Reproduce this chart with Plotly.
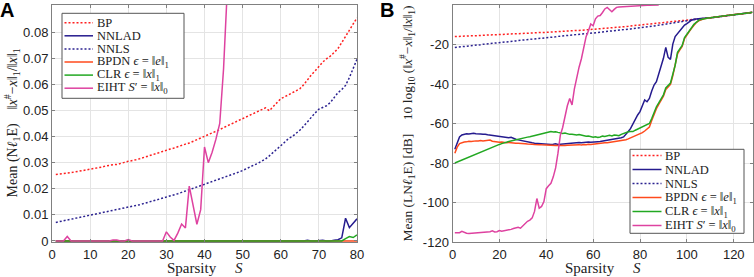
import plotly.graph_objects as go

# ---------------- Panel A data (linear error, S = 1..80) ----------------
BP_A = [
    0.0255, 0.0256, 0.0258, 0.0260, 0.0262, 0.0264, 0.0266, 0.0269, 0.0272, 0.0275,
    0.0277, 0.0280, 0.0283, 0.0287, 0.0290, 0.0292, 0.0293, 0.0296, 0.0301, 0.0305,
    0.0307, 0.0311, 0.0315, 0.0319, 0.0323, 0.0328, 0.0333, 0.0338, 0.0343, 0.0349,
    0.0352, 0.0356, 0.0362, 0.0366, 0.0371, 0.0375, 0.0382, 0.0389, 0.0394, 0.0401,
    0.0407, 0.0414, 0.0420, 0.0428, 0.0435, 0.0441, 0.0448, 0.0455, 0.0462, 0.0468,
    0.0474, 0.0480, 0.0487, 0.0494, 0.0502, 0.0510, 0.0499, 0.0515, 0.0530, 0.0545,
    0.0552, 0.0560, 0.0566, 0.0574, 0.0583, 0.0598, 0.0619, 0.0636, 0.0651, 0.0670,
    0.0685, 0.0698, 0.0708, 0.0722, 0.0737, 0.0760, 0.0785, 0.0805, 0.0830, 0.0855,
]
NNLS_A = [
    0.0071, 0.0074, 0.0077, 0.0080, 0.0083, 0.0086, 0.0089, 0.0093, 0.0097, 0.0100,
    0.0103, 0.0106, 0.0109, 0.0112, 0.0114, 0.0117, 0.0120, 0.0123, 0.0125, 0.0128,
    0.0132, 0.0136, 0.0139, 0.0143, 0.0147, 0.0151, 0.0155, 0.0159, 0.0163, 0.0167,
    0.0171, 0.0176, 0.0181, 0.0186, 0.0191, 0.0196, 0.0202, 0.0207, 0.0212, 0.0218,
    0.0223, 0.0228, 0.0233, 0.0238, 0.0243, 0.0248, 0.0253, 0.0259, 0.0264, 0.0270,
    0.0278, 0.0285, 0.0291, 0.0297, 0.0304, 0.0314, 0.0326, 0.0338, 0.0351, 0.0365,
    0.0378, 0.0392, 0.0400, 0.0412, 0.0424, 0.0440, 0.0458, 0.0474, 0.0490, 0.0505,
    0.0512, 0.0518, 0.0530, 0.0550, 0.0568, 0.0580, 0.0596, 0.0626, 0.0660, 0.0696,
]
NNLAD_A = [
    0, 0, 0, 0, 0, 0, 0, 0, 0, 0,
    0, 0, 0, 0, 0, 0, 0, 0, 0, 0,
    0, 0, 0, 0, 0, 0, 0, 0, 0, 0,
    0, 0, 0, 0, 0, 0, 0, 0, 0, 0,
    0, 0, 0, 0, 0, 0, 0, 0, 0, 0,
    0, 0, 0, 0, 0, 0, 0, 0, 0, 0,
    0, 0, 0, 0, 0, 0, 0.0003, 0, 0, 0.0001,
    0.0003, 0, 0, 0.0003, 0.0005, 0.0012, 0.0087, 0.0051, 0.0068, 0.0085,
]
BPDN_A = [
    0, 0, 0, 0, 0, 0, 0, 0, 0, 0,
    0, 0, 0, 0, 0, 0, 0, 0, 0, 0,
    0, 0, 0, 0, 0, 0, 0, 0, 0, 0,
    0, 0, 0, 0, 0, 0, 0, 0, 0, 0,
    0, 0, 0, 0, 0, 0, 0, 0, 0, 0,
    0, 0, 0, 0, 0, 0, 0, 0, 0, 0,
    0, 0, 0, 0, 0, 0, 0, 0, 0, 0,
    0, 0, 0, 0, 0, 0, 0, 0, 0, 0,
]
CLR_A = [
    0, 0, 0, 0, 0, 0, 0, 0, 0, 0,
    0, 0, 0, 0, 0, 0, 0, 0, 0, 0,
    0, 0, 0, 0, 0, 0, 0, 0, 0, 0,
    0, 0, 0, 0, 0, 0, 0, 0, 0, 0,
    0, 0, 0, 0, 0, 0, 0, 0, 0, 0,
    0, 0, 0, 0, 0, 0, 0, 0, 0, 0,
    0, 0, 0, 0, 0, 0, 0, 0, 0, 0,
    0, 0, 0, 0, 0, 0, 0.0009, 0.0017, 0.0013, 0.0023,
]
EIHT_A = [
    0, 0, 0, 0.0017, 0, 0, 0, 0, 0, 0,
    0, 0, 0, 0, 0, 0.0004, 0.0004, 0, 0, 0.0005,
    0, 0, 0, 0, 0, 0, 0, 0, 0, 0.0035,
    0.0015, 0.0002, 0.0030, 0.0065, 0.0050, 0.0210, 0.0130, 0.0064, 0.0120, 0.0360,
    0.0300, 0.0340, 0.0390, 0.0450, 0.0660, 0.0970, 0.3000,
]

# ---------------- Panel B data (dB, S = 1..128) ----------------
BP_B = [
    -16.0, -15.9, -15.9, -15.8, -15.8, -15.7, -15.7, -15.6, -15.6, -15.5,
    -15.4, -15.4, -15.3, -15.3, -15.2, -15.2, -15.1, -15.1, -15.0, -15.0,
    -14.9, -14.8, -14.8, -14.7, -14.7, -14.6, -14.6, -14.5, -14.5, -14.4,
    -14.4, -14.3, -14.3, -14.2, -14.2, -14.1, -14.0, -13.9, -13.9, -13.8,
    -13.7, -13.7, -13.6, -13.5, -13.5, -13.4, -13.3, -13.3, -13.2, -13.1,
    -13.1, -13.0, -12.9, -12.9, -12.8, -12.7, -12.7, -12.6, -12.5, -12.5,
    -12.4, -12.4, -12.3, -12.2, -12.0, -11.9, -11.8, -11.7, -11.5, -11.4,
    -11.3, -11.2, -11.0, -10.9, -10.8, -10.6, -10.5, -10.4, -10.2, -10.1,
    -10.0, -9.9, -9.7, -9.6, -9.5, -9.4, -9.2, -9.1, -9.0, -8.9,
    -8.7, -8.6, -8.5, -8.4, -8.2, -8.1, -8.0, -7.9, -7.7, -7.6,
    -7.5, -7.4, -7.2, -7.1, -7.0, -6.9, -6.85, -6.8, -6.6, -6.5,
    -6.3, -6.2, -6.0, -5.8, -5.7, -5.5, -5.3, -5.1, -5.0, -4.9,
    -4.7, -4.6, -4.5, -4.3, -4.2, -4.0, -3.9, -3.7,
]
NNLS_B = [
    -21.5, -21.4, -21.2, -21.1, -21.0, -20.8, -20.7, -20.6, -20.5, -20.3,
    -20.2, -20.1, -19.9, -19.8, -19.7, -19.6, -19.4, -19.3, -19.2, -19.0,
    -18.9, -18.8, -18.7, -18.5, -18.4, -18.3, -18.2, -18.0, -17.9, -17.8,
    -17.7, -17.5, -17.4, -17.3, -17.2, -17.0, -16.9, -16.8, -16.7, -16.5,
    -16.4, -16.3, -16.2, -16.1, -15.9, -15.8, -15.7, -15.6, -15.4, -15.3,
    -15.2, -15.1, -15.0, -14.9, -14.7, -14.6, -14.5, -14.4, -14.3, -14.2,
    -14.0, -13.9, -13.8, -13.7, -13.5, -13.4, -13.3, -13.1, -13.0, -12.9,
    -12.7, -12.6, -12.5, -12.3, -12.2, -12.1, -11.9, -11.8, -11.7, -11.5,
    -11.4, -11.3, -11.1, -11.0, -10.8, -10.6, -10.4, -10.2, -10.0, -9.8,
    -9.6, -9.4, -9.2, -9.0, -8.8, -8.6, -8.5, -8.4, -8.2, -8.0,
    -7.8, -7.5, -7.3, -7.1, -7.05, -6.95, -6.9, -6.85, -6.65, -6.5,
    -6.35, -6.2, -6.05, -5.85, -5.7, -5.5, -5.35, -5.15, -5.0, -4.9,
    -4.75, -4.6, -4.5, -4.35, -4.2, -4.05, -3.9, -3.75,
]
NNLAD_B = [
    -73.0, -69.5, -66.8, -65.8, -65.4, -65.2, -65.3, -65.1, -65.0, -65.2,
    -65.1, -65.3, -65.5, -65.4, -65.7, -65.9, -66.0, -66.2, -66.4, -66.7,
    -66.6, -66.9, -67.0, -67.2, -67.0, -67.6, -68.0, -68.3, -68.6, -68.9,
    -69.1, -69.5, -69.7, -69.8, -70.0, -70.1, -70.3, -70.2, -70.4, -70.5,
    -70.4, -70.6, -70.5, -70.3, -70.6, -70.5, -70.4, -70.2, -70.0, -69.8,
    -69.9, -69.7, -69.8, -69.6, -69.7, -69.5, -69.6, -69.4, -69.5, -69.3,
    -69.4, -69.2, -69.1, -68.9, -68.7, -68.6, -68.3, -68.2, -67.9, -67.7,
    -67.5, -67.2, -66.8, -65.6, -64.0, -62.5, -60.0, -58.2, -55.7, -54.0,
    -51.5, -48.1, -49.0, -47.3, -43.5, -40.5, -38.8, -35.0, -31.2, -27.0,
    -21.5, -26.5, -27.5, -19.8, -16.0, -14.5, -13.2, -11.5, -10.2, -9.4,
    -8.5, -7.7, -7.2, -6.9, -6.95, -6.85, -6.8, -6.75, -6.6, -6.45,
    -6.3, -6.15, -6.0, -5.8, -5.65, -5.45, -5.3, -5.1, -4.95, -4.85,
    -4.7, -4.55, -4.45, -4.3, -4.15, -4.0, -3.85, -3.7,
]
BPDN_B = [
    -75.1, -72.0, -70.2, -69.6, -69.4, -69.3, -69.0, -69.1, -68.9, -68.8,
    -68.9, -68.6, -68.8, -68.7, -68.7, -68.4, -69.0, -69.2, -69.3, -69.5,
    -69.4, -69.6, -69.7, -69.6, -69.8, -69.9, -70.0, -70.0, -70.2, -70.1,
    -70.3, -70.4, -70.3, -70.5, -70.6, -70.5, -70.7, -70.8, -70.9, -70.8,
    -71.0, -71.1, -71.0, -71.2, -71.1, -71.2, -71.3, -71.1, -71.0, -70.9,
    -71.1, -70.8, -70.9, -70.7, -70.9, -70.6, -70.8, -70.5, -70.6, -70.4,
    -70.3, -70.2, -70.1, -69.9, -69.8, -69.7, -69.5, -69.4, -69.3, -69.1,
    -69.0, -68.8, -68.6, -68.2, -67.8, -67.3, -66.8, -66.3, -65.8, -65.2,
    -64.6, -63.8, -62.8, -61.8, -58.5, -55.0, -52.5, -50.3, -48.3, -46.2,
    -42.8, -41.3, -40.2, -35.8, -31.0, -24.8, -22.7, -21.0, -17.0, -15.5,
    -13.4, -11.8, -10.1, -8.9, -8.0, -7.4, -7.1, -6.85, -6.62, -6.5,
    -6.32, -6.2, -6.02, -5.82, -5.7, -5.5, -5.32, -5.12, -5.0, -4.9,
    -4.72, -4.6, -4.5, -4.32, -4.2, -4.02, -3.9, -3.72,
]
CLR_B = [
    -80.0, -79.5, -79.0, -78.4, -78.0, -77.6, -77.0, -76.5, -76.0, -75.4,
    -75.0, -74.3, -73.9, -73.2, -72.8, -72.3, -71.8, -71.5, -71.0, -70.6,
    -70.2, -70.0, -69.5, -69.1, -68.8, -68.4, -68.1, -67.9, -67.6, -67.3,
    -67.0, -66.9, -66.7, -66.4, -66.0, -65.7, -65.5, -65.3, -65.0, -64.6,
    -64.2, -64.1, -64.3, -64.2, -64.5, -64.7, -65.0, -64.8, -65.2, -65.5,
    -65.4, -65.7, -65.8, -65.6, -65.9, -66.2, -66.5, -66.3, -66.8, -67.0,
    -66.7, -67.1, -66.8, -66.4, -66.6, -66.2, -66.0, -66.3, -65.8, -65.9,
    -66.2, -65.5, -65.0, -64.6, -64.2, -64.0, -64.1, -63.4, -62.8, -62.4,
    -62.0, -61.2, -60.8, -60.0, -57.5, -54.0, -51.5, -49.5, -47.5, -45.5,
    -42.0, -40.5, -39.5, -35.0, -30.5, -24.0, -22.0, -20.5, -16.5, -15.0,
    -13.0, -11.5, -9.8, -8.6, -7.8, -7.3, -7.0, -6.8, -6.6, -6.5,
    -6.3, -6.2, -6.0, -5.8, -5.7, -5.5, -5.3, -5.1, -5.0, -4.9,
    -4.7, -4.6, -4.5, -4.3, -4.2, -4.0, -3.9, -3.7,
]
EIHT_B = [
    -115.3, -115.4, -115.3, -114.6, -115.3, -115.6, -115.7, -115.6, -115.6, -115.5,
    -115.5, -115.4, -115.4, -115.3, -115.2, -114.8, -114.3, -114.9, -114.8, -114.2,
    -114.6, -114.4, -114.0, -113.8, -113.6, -113.2, -112.8, -112.6, -113.0, -111.8,
    -110.5, -109.5, -108.9, -107.8, -104.5, -98.0, -102.9, -102.0, -99.5, -93.0,
    -91.5, -90.3, -87.0, -82.5, -75.0, -66.0, -62.0, -56.0, -51.0, -47.3,
    -50.6, -42.5, -36.5, -31.5, -27.2, -21.5, -16.0, -13.0, -9.6, -10.5,
    -7.0, -5.6, -5.3, -3.8, -2.0, -1.2, -2.5, -3.4, -2.2, -1.2,
    -1.0, -0.9, -0.8, -0.7, -0.6, -0.5, -0.45, -0.4, -0.35, -0.3,
    -0.25, -0.2, -0.15, -0.1, -0.08, -0.06, -0.04, -0.02,
]

NAMES = ["BP", "NNLAD", "NNLS",
         "BPDN <i>ϵ</i> = ‖<i>e</i>‖<sub>1</sub>",
         "CLR <i>ϵ</i> = ‖<i>x</i>‖<sub>1</sub>",
         "EIHT <i>S</i>′ = ‖<i>x</i>‖<sub>0</sub>"]
COLORS = ["#ff1f1f", "#251b8e", "#2b2290", "#ff4a1c", "#22a822", "#de42a0"]
DASHES = ["2px,2px", "solid", "2px,2px", "solid", "solid", "solid"]

XA_TICKS = [0, 10, 20, 30, 40, 50, 60, 70, 80]
YA_TICKS = [0, 0.01, 0.02, 0.03, 0.04, 0.05, 0.06, 0.07, 0.08]
YA_LABELS = ["0", "0.01", "0.02", "0.03", "0.04", "0.05", "0.06", "0.07", "0.08"]
XB_TICKS = [0, 20, 40, 60, 80, 100, 120]
YB_TICKS = [0, -20, -40, -60, -80, -100, -120]
YB_LABELS = ["0", "-20", "-40", "-60", "-80", "-100", "-120"]

W, H = 754, 277
def px(x):
    return x / W
def py(y):
    return 1 - y / H

fig = go.Figure()

series_A = [BP_A, NNLAD_A, NNLS_A, BPDN_A, CLR_A, EIHT_A]
series_B = [BP_B, NNLAD_B, NNLS_B, BPDN_B, CLR_B, EIHT_B]
for i, ys in enumerate(series_A):
    fig.add_trace(go.Scatter(x=list(range(1, len(ys) + 1)), y=ys, mode="lines",
                             name=NAMES[i], xaxis="x", yaxis="y", showlegend=False,
                             line=dict(color=COLORS[i], width=1.5, dash=DASHES[i])))
for i, ys in enumerate(series_B):
    fig.add_trace(go.Scatter(x=list(range(1, len(ys) + 1)), y=ys, mode="lines",
                             name=NAMES[i], xaxis="x2", yaxis="y2", showlegend=False,
                             line=dict(color=COLORS[i], width=1.5, dash=DASHES[i])))

AX = dict(showline=True, linecolor="#808080", linewidth=1, mirror="ticks",
          ticks="inside", ticklen=3, tickcolor="#808080", showgrid=True,
          gridcolor="#e4e4e4", gridwidth=1, zeroline=False, automargin=False,
          tickfont=dict(family="Liberation Sans", size=13, color="#222"))

fig.update_layout(
    width=W, height=H, margin=dict(l=0, r=0, t=0, b=0, autoexpand=False),
    paper_bgcolor="white", plot_bgcolor="white",
    xaxis=dict(AX, domain=[px(52), px(357)], range=[0, 80], tickvals=XA_TICKS, anchor="y"),
    yaxis=dict(AX, domain=[py(242), py(5)], range=[-0.0004, 0.0904], tickvals=YA_TICKS,
               ticktext=YA_LABELS, anchor="x"),
    xaxis2=dict(AX, domain=[px(452.5), px(752.5)], range=[0, 128], tickvals=XB_TICKS, anchor="y2"),
    yaxis2=dict(AX, domain=[py(242), py(5)], range=[-120, 0], tickvals=YB_TICKS,
                ticktext=YB_LABELS, anchor="x2"),
)

serif = "Liberation Serif"
ann = []
shapes = []
def text(t, x, y, size, family=serif, angle=0, xanchor="center", color="#222"):
    ann.append(dict(text=t, x=px(x), y=py(y), xref="paper", yref="paper", showarrow=False,
                    xanchor=xanchor, yanchor="middle", textangle=angle,
                    font=dict(family=family, size=size, color=color)))

# panel labels
text("<b>A</b>", 6.5, 10, 20, family="Liberation Sans", color="black")
text("<b>B</b>", 386.5, 10, 20, family="Liberation Sans", color="black")
# axis titles
xt = "Sparsity\u00a0\u00a0\u00a0\u00a0\u00a0<i>S</i>"
text(xt, 204.5, 268, 15)
text(xt, 602.5, 268, 15)
text("Mean (N<i>ℓ</i><sub>1</sub>E)\u00a0\u00a0\u00a0\u00a0"
     "‖<i>x</i><sup>#</sup>−<i>x</i>‖<sub>1</sub>/‖<i>x</i>‖<sub>1</sub>",
     12, 123.5, 14, angle=-90)
text("Mean (LN<i>ℓ</i><sub>1</sub>E) [dB]\u00a0\u00a0\u00a0\u00a0"
     "10 log<sub>10</sub> (‖<i>x</i><sup>#</sup>−<i>x</i>‖<sub>1</sub>/‖<i>x</i>‖<sub>1</sub>)",
     408, 123.5, 13.5, angle=-90)

# legends (manual, compact like the original)
def legend(x0, x1, y0, y1, row0, step, lx0, lx1, tx):
    shapes.append(dict(type="rect", xref="paper", yref="paper", x0=px(x0), x1=px(x1),
                       y0=py(y1), y1=py(y0), line=dict(color="#555", width=1),
                       fillcolor="white", layer="above"))
    for i in range(len(NAMES)):
        yy = row0 + step * i
        shapes.append(dict(type="line", xref="paper", yref="paper", x0=px(lx0), x1=px(lx1),
                           y0=py(yy), y1=py(yy), layer="above",
                           line=dict(color=COLORS[i], width=1.5, dash=DASHES[i])))
        text(NAMES[i], tx, yy, 12.5, xanchor="left")

legend(62, 184, 13.3, 98.3, 22.7, 13.1, 64.5, 93, 95)
legend(630, 744, 149.3, 233.3, 155.5, 14, 632.5, 661.5, 663)

fig.update_layout(annotations=ann, shapes=shapes)
fig.write_html("out.html", config={"displayModeBar": False},
               post_script="document.body.style.margin='0';document.body.style.overflow='hidden';")
